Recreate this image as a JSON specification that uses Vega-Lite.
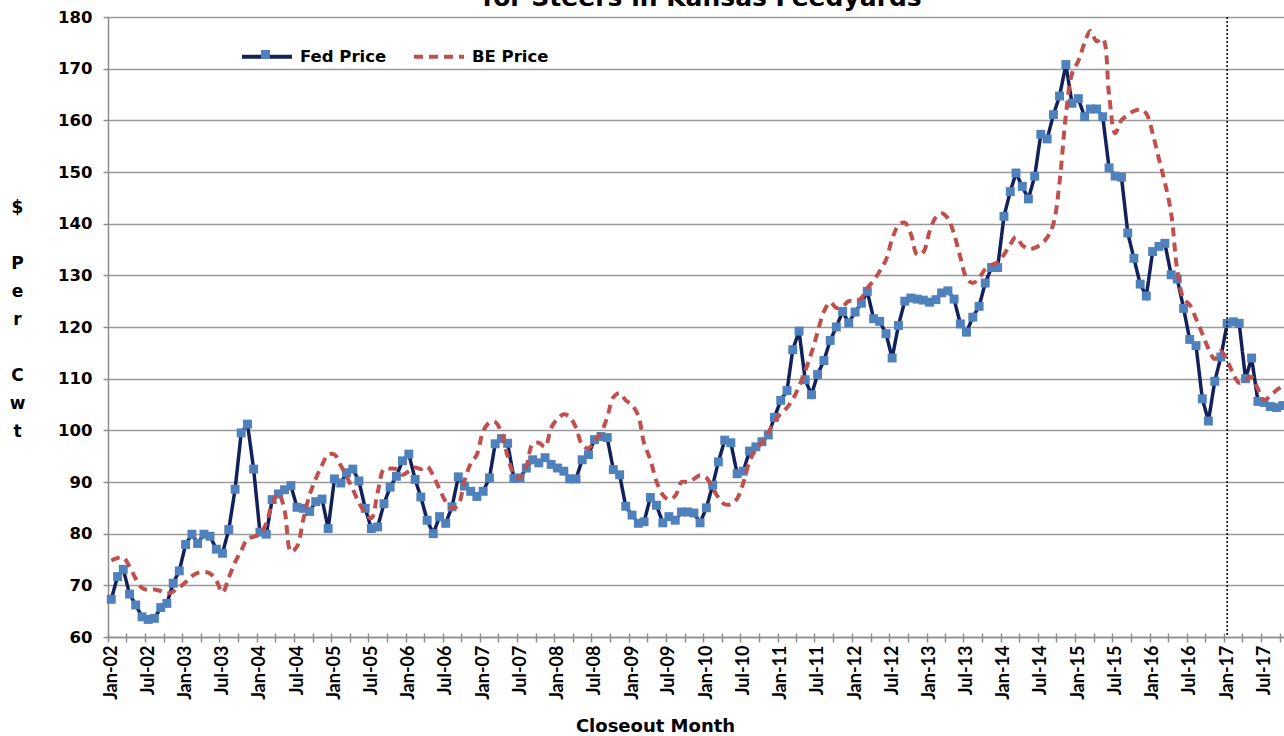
{
  "$schema": "https://vega.github.io/schema/vega-lite/v6.json",
  "width": 1176,
  "height": 620,
  "autosize": {"type": "none"},
  "padding": {"left": 108, "top": 17, "right": 0, "bottom": 99},
  "background": "white",
  "config": {"view": {"stroke": null}, "font": "DejaVu Sans"},
  "title": {"text": "for Steers in Kansas Feedyards", "font": "DejaVu Sans", "fontSize": 25, "fontWeight": "bold", "color": "black", "anchor": "middle", "baseline": "alphabetic", "offset": -22, "dx": 6},
  "datasets": {
    "prices": [
      {"month":"2002-01-01","fed":67.3,"be":74.8},{"month":"2002-02-01","fed":71.7,"be":75.3},{"month":"2002-03-01","fed":73.1,"be":75.4},{"month":"2002-04-01","fed":68.3,"be":73.6},{"month":"2002-05-01","fed":66.2,"be":71.3},{"month":"2002-06-01","fed":63.9,"be":69.5},{"month":"2002-07-01","fed":63.4,"be":69.1},{"month":"2002-08-01","fed":63.6,"be":69.2},{"month":"2002-09-01","fed":65.7,"be":68.9},{"month":"2002-10-01","fed":66.5,"be":68.4},{"month":"2002-11-01","fed":70.4,"be":68.8},{"month":"2002-12-01","fed":72.8,"be":69.6},
      {"month":"2003-01-01","fed":77.9,"be":70.6},{"month":"2003-02-01","fed":79.9,"be":71.8},{"month":"2003-03-01","fed":78.1,"be":72.4},{"month":"2003-04-01","fed":79.9,"be":72.6},{"month":"2003-05-01","fed":79.5,"be":72.3},{"month":"2003-06-01","fed":77.0,"be":70.9},{"month":"2003-07-01","fed":76.2,"be":68.6},{"month":"2003-08-01","fed":80.8,"be":71.5},{"month":"2003-09-01","fed":88.6,"be":74.5},{"month":"2003-10-01","fed":99.5,"be":76.7},{"month":"2003-11-01","fed":101.2,"be":79.0},{"month":"2003-12-01","fed":92.5,"be":79.4},
      {"month":"2004-01-01","fed":80.3,"be":79.9},{"month":"2004-02-01","fed":79.9,"be":82.0},{"month":"2004-03-01","fed":86.6,"be":85.8},{"month":"2004-04-01","fed":87.7,"be":87.8},{"month":"2004-05-01","fed":88.5,"be":84.5},{"month":"2004-06-01","fed":89.3,"be":76.5},{"month":"2004-07-01","fed":85.1,"be":77.5},{"month":"2004-08-01","fed":84.9,"be":82.8},{"month":"2004-09-01","fed":84.3,"be":87.5},{"month":"2004-10-01","fed":86.2,"be":90.6},{"month":"2004-11-01","fed":86.7,"be":93.3},{"month":"2004-12-01","fed":81.0,"be":95.3},
      {"month":"2005-01-01","fed":90.6,"be":95.3},{"month":"2005-02-01","fed":89.8,"be":93.2},{"month":"2005-03-01","fed":91.8,"be":91.1},{"month":"2005-04-01","fed":92.5,"be":88.6},{"month":"2005-05-01","fed":90.2,"be":86.0},{"month":"2005-06-01","fed":84.9,"be":84.0},{"month":"2005-07-01","fed":81.0,"be":83.0},{"month":"2005-08-01","fed":81.3,"be":88.0},{"month":"2005-09-01","fed":85.8,"be":92.5},{"month":"2005-10-01","fed":89.0,"be":92.6},{"month":"2005-11-01","fed":91.1,"be":92.5},{"month":"2005-12-01","fed":94.1,"be":91.4},
      {"month":"2006-01-01","fed":95.4,"be":92.1},{"month":"2006-02-01","fed":90.5,"be":92.8},{"month":"2006-03-01","fed":87.1,"be":92.5},{"month":"2006-04-01","fed":82.6,"be":93.0},{"month":"2006-05-01","fed":80.0,"be":91.2},{"month":"2006-06-01","fed":83.3,"be":88.6},{"month":"2006-07-01","fed":82.0,"be":86.2},{"month":"2006-08-01","fed":85.2,"be":84.9},{"month":"2006-09-01","fed":91.0,"be":85.6},{"month":"2006-10-01","fed":89.2,"be":90.2},{"month":"2006-11-01","fed":88.2,"be":93.6},{"month":"2006-12-01","fed":87.2,"be":95.3},
      {"month":"2007-01-01","fed":88.2,"be":99.8},{"month":"2007-02-01","fed":90.8,"be":101.5},{"month":"2007-03-01","fed":97.4,"be":101.6},{"month":"2007-04-01","fed":98.4,"be":99.5},{"month":"2007-05-01","fed":97.5,"be":95.0},{"month":"2007-06-01","fed":90.7,"be":91.5},{"month":"2007-07-01","fed":90.8,"be":90.8},{"month":"2007-08-01","fed":92.7,"be":93.0},{"month":"2007-09-01","fed":94.3,"be":97.4},{"month":"2007-10-01","fed":93.7,"be":97.6},{"month":"2007-11-01","fed":94.7,"be":96.8},{"month":"2007-12-01","fed":93.4,"be":100.5},
      {"month":"2008-01-01","fed":92.7,"be":102.2},{"month":"2008-02-01","fed":92.1,"be":103.1},{"month":"2008-03-01","fed":90.6,"be":102.6},{"month":"2008-04-01","fed":90.6,"be":100.5},{"month":"2008-05-01","fed":94.3,"be":97.2},{"month":"2008-06-01","fed":95.3,"be":96.5},{"month":"2008-07-01","fed":98.2,"be":98.0},{"month":"2008-08-01","fed":98.8,"be":99.5},{"month":"2008-09-01","fed":98.6,"be":102.5},{"month":"2008-10-01","fed":92.4,"be":106.4},{"month":"2008-11-01","fed":91.4,"be":107.2},{"month":"2008-12-01","fed":85.3,"be":105.8},
      {"month":"2009-01-01","fed":83.6,"be":104.9},{"month":"2009-02-01","fed":82.0,"be":102.8},{"month":"2009-03-01","fed":82.3,"be":97.5},{"month":"2009-04-01","fed":87.0,"be":94.3},{"month":"2009-05-01","fed":85.5,"be":90.1},{"month":"2009-06-01","fed":82.1,"be":87.5},{"month":"2009-07-01","fed":83.3,"be":86.6},{"month":"2009-08-01","fed":82.6,"be":87.3},{"month":"2009-09-01","fed":84.2,"be":90.0},{"month":"2009-10-01","fed":84.2,"be":90.0},{"month":"2009-11-01","fed":84.0,"be":90.6},{"month":"2009-12-01","fed":82.1,"be":91.3},
      {"month":"2010-01-01","fed":85.0,"be":90.8},{"month":"2010-02-01","fed":89.4,"be":88.8},{"month":"2010-03-01","fed":93.9,"be":87.0},{"month":"2010-04-01","fed":98.1,"be":85.7},{"month":"2010-05-01","fed":97.6,"be":85.7},{"month":"2010-06-01","fed":91.6,"be":86.8},{"month":"2010-07-01","fed":92.1,"be":89.8},{"month":"2010-08-01","fed":96.0,"be":94.0},{"month":"2010-09-01","fed":96.8,"be":96.3},{"month":"2010-10-01","fed":97.8,"be":97.6},{"month":"2010-11-01","fed":99.1,"be":99.6},{"month":"2010-12-01","fed":102.5,"be":101.6},
      {"month":"2011-01-01","fed":105.8,"be":103.3},{"month":"2011-02-01","fed":107.7,"be":104.4},{"month":"2011-03-01","fed":115.6,"be":106.0},{"month":"2011-04-01","fed":119.2,"be":108.5},{"month":"2011-05-01","fed":109.8,"be":111.5},{"month":"2011-06-01","fed":106.9,"be":115.0},{"month":"2011-07-01","fed":110.8,"be":119.0},{"month":"2011-08-01","fed":113.5,"be":123.0},{"month":"2011-09-01","fed":117.4,"be":124.8},{"month":"2011-10-01","fed":120.0,"be":123.7},{"month":"2011-11-01","fed":123.0,"be":124.0},{"month":"2011-12-01","fed":120.8,"be":125.0},
      {"month":"2012-01-01","fed":122.9,"be":125.0},{"month":"2012-02-01","fed":124.6,"be":125.6},{"month":"2012-03-01","fed":126.9,"be":127.5},{"month":"2012-04-01","fed":121.6,"be":129.0},{"month":"2012-05-01","fed":121.1,"be":130.8},{"month":"2012-06-01","fed":118.7,"be":133.0},{"month":"2012-07-01","fed":114.0,"be":137.0},{"month":"2012-08-01","fed":120.3,"be":139.7},{"month":"2012-09-01","fed":125.0,"be":140.2},{"month":"2012-10-01","fed":125.6,"be":138.0},{"month":"2012-11-01","fed":125.4,"be":134.0},{"month":"2012-12-01","fed":125.2,"be":134.5},
      {"month":"2013-01-01","fed":124.8,"be":138.5},{"month":"2013-02-01","fed":125.3,"be":141.3},{"month":"2013-03-01","fed":126.6,"be":142.0},{"month":"2013-04-01","fed":127.0,"be":141.0},{"month":"2013-05-01","fed":125.4,"be":138.0},{"month":"2013-06-01","fed":120.6,"be":133.5},{"month":"2013-07-01","fed":119.0,"be":129.5},{"month":"2013-08-01","fed":121.9,"be":128.5},{"month":"2013-09-01","fed":124.0,"be":129.5},{"month":"2013-10-01","fed":128.5,"be":131.2},{"month":"2013-11-01","fed":131.5,"be":132.0},{"month":"2013-12-01","fed":131.5,"be":132.5},
      {"month":"2014-01-01","fed":141.4,"be":134.0},{"month":"2014-02-01","fed":146.2,"be":136.0},{"month":"2014-03-01","fed":149.8,"be":137.4},{"month":"2014-04-01","fed":147.2,"be":135.8},{"month":"2014-05-01","fed":144.8,"be":135.1},{"month":"2014-06-01","fed":149.2,"be":135.3},{"month":"2014-07-01","fed":157.3,"be":136.0},{"month":"2014-08-01","fed":156.4,"be":137.3},{"month":"2014-09-01","fed":161.1,"be":140.0},{"month":"2014-10-01","fed":164.7,"be":148.0},{"month":"2014-11-01","fed":170.8,"be":161.0},{"month":"2014-12-01","fed":163.3,"be":169.0},
      {"month":"2015-01-01","fed":164.2,"be":171.5},{"month":"2015-02-01","fed":160.7,"be":175.0},{"month":"2015-03-01","fed":162.2,"be":177.3},{"month":"2015-04-01","fed":162.2,"be":175.3},{"month":"2015-05-01","fed":160.7,"be":175.8},{"month":"2015-06-01","fed":150.8,"be":165.0},{"month":"2015-07-01","fed":149.2,"be":157.5},{"month":"2015-08-01","fed":149.0,"be":160.0},{"month":"2015-09-01","fed":138.2,"be":161.0},{"month":"2015-10-01","fed":133.3,"be":161.8},{"month":"2015-11-01","fed":128.3,"be":162.1},{"month":"2015-12-01","fed":126.0,"be":161.3},
      {"month":"2016-01-01","fed":134.6,"be":157.5},{"month":"2016-02-01","fed":135.6,"be":152.5},{"month":"2016-03-01","fed":136.2,"be":148.0},{"month":"2016-04-01","fed":130.1,"be":142.0},{"month":"2016-05-01","fed":129.3,"be":131.0},{"month":"2016-06-01","fed":123.6,"be":125.5},{"month":"2016-07-01","fed":117.6,"be":124.3},{"month":"2016-08-01","fed":116.4,"be":121.6},{"month":"2016-09-01","fed":106.1,"be":118.7},{"month":"2016-10-01","fed":101.8,"be":115.8},{"month":"2016-11-01","fed":109.5,"be":113.8},{"month":"2016-12-01","fed":114.2,"be":115.3},
      {"month":"2017-01-01","fed":120.7,"be":113.5},{"month":"2017-02-01","fed":121.0,"be":110.8},{"month":"2017-03-01","fed":120.7,"be":109.2},{"month":"2017-04-01","fed":110.0,"be":109.8},{"month":"2017-05-01","fed":114.0,"be":110.3},{"month":"2017-06-01","fed":105.6,"be":108.0},{"month":"2017-07-01","fed":105.4,"be":105.9},{"month":"2017-08-01","fed":104.6,"be":106.6},{"month":"2017-09-01","fed":104.4,"be":107.8},{"month":"2017-10-01","fed":104.8,"be":108.5}
    ],
    "marker": [{"month": "2017-01-01"}]
  },
  "resolve": {"axis": {"x": "independent"}},
  "layer": [
    {
      "data": {"name": "prices"},
      "transform": [{"fold": ["fed"], "as": ["series", "price"]}],
      "mark": {"type": "line", "strokeWidth": 3.5, "interpolate": "linear"},
      "encoding": {
        "x": {"field": "month", "type": "temporal",
          "scale": {"type": "utc", "nice": false, "domain": [{"year": 2001, "month": 12, "date": 16, "utc": true}, {"year": 2017, "month": 10, "date": 7, "utc": true}]},
          "axis": {"orient": "bottom", "tickCount": {"interval": "month", "step": 6}, "labelExpr": "utcFormat(datum.value, '%b-%y')", "labelAngle": -90, "labelFont": "Lato", "labelFontSize": 18, "labelFontWeight": "bold", "labelColor": "black", "labelPadding": 8, "ticks": false, "tickSize": 0, "domain": true, "domainColor": "#8c8c8c", "domainWidth": 1.5, "grid": false, "labelOverlap": false, "labelBound": false, "labelFlush": false,
            "title": "Closeout Month", "titleFont": "DejaVu Sans", "titleFontSize": 18, "titleFontWeight": "bold", "titleColor": "black", "titleX": 547, "titleY": 94, "titleBaseline": "alphabetic", "titleAlign": "center", "titleAnchor": null}},
        "y": {"field": "price", "type": "quantitative", "scale": {"domain": [60, 180], "nice": false, "zero": false},
          "axis": {"values": [60, 70, 80, 90, 100, 110, 120, 130, 140, 150, 160, 170, 180], "grid": true, "gridColor": "#9a9a9a", "gridWidth": 1.5, "domain": true, "domainColor": "#8c8c8c", "domainWidth": 1.5, "ticks": true, "tickSize": 5, "tickColor": "#8c8c8c", "tickWidth": 1.5, "labelFont": "DejaVu Sans", "labelFontSize": 16.5, "labelFontWeight": "bold", "labelColor": "black", "labelPadding": 11,
            "title": ["$", "\u200b", "P", "e", "r", "\u200b", "C", "w", "t"], "titleAngle": 0, "titleFont": "DejaVu Sans", "titleFontSize": 17, "titleFontWeight": "bold", "titleColor": "black", "titleLineHeight": 28, "titleX": -91, "titleY": 190, "titleAlign": "center", "titleBaseline": "middle", "titleAnchor": null}},
        "color": {"field": "series", "type": "nominal", "scale": {"domain": ["fed", "be"], "range": ["#13215b", "#c0504d"]},
          "legend": {"orient": "none", "legendX": 132, "legendY": 12.5, "direction": "horizontal", "title": null, "symbolType": "stroke", "symbolSize": 2500, "symbolStrokeWidth": 4, "labelFont": "DejaVu Sans", "labelFontSize": 16.5, "labelFontWeight": "bold", "labelColor": "black", "labelOffset": 6, "columnPadding": 19, "padding": 0, "labelExpr": "datum.label == 'fed' ? 'Fed Price' : 'BE Price'"}},
        "strokeDash": {"field": "series", "type": "nominal", "scale": {"domain": ["fed", "be"], "range": [[1, 0], [9, 6]]},
          "legend": {"orient": "none", "legendX": 132, "legendY": 12.5, "direction": "horizontal", "title": null, "symbolType": "stroke", "symbolSize": 2500, "symbolStrokeWidth": 4, "labelFont": "DejaVu Sans", "labelFontSize": 16.5, "labelFontWeight": "bold", "labelColor": "black", "labelOffset": 6, "columnPadding": 19, "padding": 0, "labelExpr": "datum.label == 'fed' ? 'Fed Price' : 'BE Price'"}}
      }
    },
    {
      "data": {"name": "prices"},
      "transform": [{"fold": ["fed"], "as": ["series", "price"]}],
      "mark": {"type": "point", "shape": "square", "filled": true, "size": 80, "opacity": 1, "strokeWidth": 0},
      "encoding": {
        "x": {"field": "month", "type": "temporal", "scale": {"type": "utc", "nice": false, "domain": [{"year": 2001, "month": 12, "date": 16, "utc": true}, {"year": 2017, "month": 10, "date": 7, "utc": true}]}, "axis": null},
        "y": {"field": "price", "type": "quantitative", "scale": {"domain": [60, 180], "nice": false, "zero": false},
          "axis": {"values": [60, 70, 80, 90, 100, 110, 120, 130, 140, 150, 160, 170, 180], "grid": true, "gridColor": "#9a9a9a", "gridWidth": 1.5, "domain": true, "domainColor": "#8c8c8c", "domainWidth": 1.5, "ticks": true, "tickSize": 5, "tickColor": "#8c8c8c", "tickWidth": 1.5, "labelFont": "DejaVu Sans", "labelFontSize": 16.5, "labelFontWeight": "bold", "labelColor": "black", "labelPadding": 11,
            "title": ["$", "\u200b", "P", "e", "r", "\u200b", "C", "w", "t"], "titleAngle": 0, "titleFont": "DejaVu Sans", "titleFontSize": 17, "titleFontWeight": "bold", "titleColor": "black", "titleLineHeight": 28, "titleX": -91, "titleY": 190, "titleAlign": "center", "titleBaseline": "middle", "titleAnchor": null}},
        "fill": {"field": "series", "type": "nominal", "scale": {"domain": ["fed"], "range": ["#4f81bd"]},
          "legend": {"orient": "none", "legendX": 152.5, "legendY": 32.5, "title": null, "symbolType": "square", "symbolSize": 81, "symbolStrokeWidth": 0, "labelExpr": "''", "padding": 0}}
      }
    },
    {
      "data": {"name": "prices"},
      "transform": [{"fold": ["be"], "as": ["series", "price"]}],
      "mark": {"type": "line", "strokeWidth": 4, "interpolate": "catmull-rom"},
      "encoding": {
        "x": {"field": "month", "type": "temporal", "scale": {"type": "utc", "nice": false, "domain": [{"year": 2001, "month": 12, "date": 16, "utc": true}, {"year": 2017, "month": 10, "date": 7, "utc": true}]}, "axis": null},
        "y": {"field": "price", "type": "quantitative", "scale": {"domain": [60, 180], "nice": false, "zero": false},
          "axis": {"values": [60, 70, 80, 90, 100, 110, 120, 130, 140, 150, 160, 170, 180], "grid": true, "gridColor": "#9a9a9a", "gridWidth": 1.5, "domain": true, "domainColor": "#8c8c8c", "domainWidth": 1.5, "ticks": true, "tickSize": 5, "tickColor": "#8c8c8c", "tickWidth": 1.5, "labelFont": "DejaVu Sans", "labelFontSize": 16.5, "labelFontWeight": "bold", "labelColor": "black", "labelPadding": 11,
            "title": ["$", "\u200b", "P", "e", "r", "\u200b", "C", "w", "t"], "titleAngle": 0, "titleFont": "DejaVu Sans", "titleFontSize": 17, "titleFontWeight": "bold", "titleColor": "black", "titleLineHeight": 28, "titleX": -91, "titleY": 190, "titleAlign": "center", "titleBaseline": "middle", "titleAnchor": null}},
        "color": {"field": "series", "type": "nominal", "scale": {"domain": ["fed", "be"], "range": ["#13215b", "#c0504d"]}},
        "strokeDash": {"field": "series", "type": "nominal", "scale": {"domain": ["fed", "be"], "range": [[1, 0], [9, 6]]}}
      }
    },
    {
      "data": {"name": "marker"},
      "mark": {"type": "rule", "color": "black", "strokeDash": [2, 2], "strokeWidth": 1.5},
      "encoding": {
        "x": {"field": "month", "type": "temporal", "scale": {"type": "utc", "nice": false, "domain": [{"year": 2001, "month": 12, "date": 16, "utc": true}, {"year": 2017, "month": 10, "date": 7, "utc": true}]},
          "axis": {"orient": "bottom", "tickCount": {"interval": "month", "step": 3}, "labels": false, "domain": false, "grid": false, "ticks": true, "tickSize": 9, "tickColor": "#8c8c8c", "tickWidth": 1.5, "offset": -4, "tickOffset": -3.1, "title": null}}
      }
    }
  ]
}
